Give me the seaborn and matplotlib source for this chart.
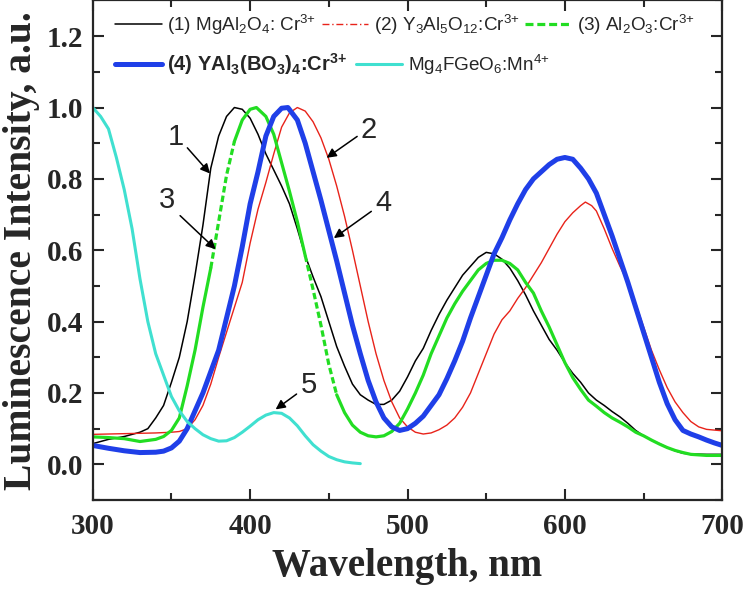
import numpy as np
import pandas as pd
import matplotlib
matplotlib.use("Agg")
import matplotlib.pyplot as plt
from matplotlib.lines import Line2D
import seaborn as sns

# ---------------- data ----------------
wl_black = [300, 310, 320, 330, 335, 340, 345, 350, 355, 360, 365, 370, 375, 380, 385, 390, 395, 400,
            405, 410, 415, 420, 425, 430, 435, 440, 445, 450, 455, 460, 465, 470, 475, 480, 485, 490,
            495, 500, 505, 510, 515, 520, 525, 530, 535, 540, 545, 550, 555, 560, 565, 570, 575, 580,
            585, 590, 595, 600, 605, 610, 615, 620, 625, 630, 635, 640, 645, 650, 655, 660, 665, 670,
            675, 680, 690, 700]
int_black = [0.058, 0.07, 0.078, 0.09, 0.10, 0.13, 0.165, 0.23, 0.30, 0.40, 0.53, 0.67, 0.83, 0.92,
             0.975, 1.0, 0.995, 0.97, 0.925, 0.87, 0.825, 0.78, 0.73, 0.66, 0.585, 0.525, 0.47, 0.40,
             0.33, 0.275, 0.225, 0.195, 0.18, 0.168, 0.168, 0.18, 0.205, 0.245, 0.29, 0.325, 0.375,
             0.42, 0.46, 0.495, 0.53, 0.555, 0.58, 0.594, 0.59, 0.575, 0.55, 0.515, 0.475, 0.43, 0.39,
             0.35, 0.32, 0.285, 0.255, 0.23, 0.20, 0.18, 0.165, 0.148, 0.133, 0.115, 0.095, 0.08,
             0.068, 0.058, 0.047, 0.038, 0.031, 0.029, 0.028, 0.028]

wl_red = [300, 310, 320, 330, 340, 350, 355, 360, 365, 370, 375, 380, 385, 390, 395, 400, 405, 410,
          415, 420, 425, 430, 435, 440, 445, 450, 455, 460, 465, 470, 475, 480, 485, 490, 495, 500,
          505, 510, 515, 520, 525, 530, 535, 540, 545, 550, 555, 560, 565, 570, 575, 580, 585, 590,
          595, 600, 605, 610, 613, 617, 620, 625, 630, 635, 640, 645, 650, 655, 660, 665, 670, 675,
          680, 685, 690, 700]
int_red = [0.084, 0.085, 0.086, 0.087, 0.088, 0.09, 0.092, 0.10, 0.125, 0.165, 0.225, 0.30, 0.37,
           0.44, 0.51, 0.62, 0.715, 0.79, 0.87, 0.945, 0.985, 1.0, 0.99, 0.96, 0.915, 0.855, 0.78,
           0.695, 0.60, 0.50, 0.40, 0.31, 0.235, 0.175, 0.13, 0.105, 0.09, 0.085, 0.088, 0.097, 0.11,
           0.13, 0.16, 0.20, 0.255, 0.31, 0.365, 0.405, 0.43, 0.465, 0.495, 0.53, 0.565, 0.605, 0.645,
           0.68, 0.705, 0.725, 0.735, 0.725, 0.71, 0.66, 0.605, 0.555, 0.51, 0.45, 0.385, 0.32, 0.265,
           0.215, 0.175, 0.145, 0.12, 0.105, 0.098, 0.094]

wl_green = [300, 310, 320, 330, 340, 345, 350, 355, 360, 365, 370, 375, 380, 385, 390, 395, 400, 404,
            410, 415, 420, 425, 430, 435, 440, 445, 450, 455, 460, 465, 470, 475, 480, 485, 490, 495,
            500, 505, 510, 515, 520, 525, 530, 535, 540, 545, 550, 555, 560, 565, 570, 575, 580, 585,
            590, 595, 600, 605, 610, 615, 620, 625, 630, 635, 640, 645, 650, 655, 660, 665, 670, 675,
            680, 690, 700]
int_green = [0.077, 0.075, 0.072, 0.064, 0.07, 0.078, 0.095, 0.13, 0.22, 0.32, 0.44, 0.55, 0.68, 0.81,
             0.905, 0.965, 0.995, 1.0, 0.975, 0.925, 0.845, 0.765, 0.68, 0.585, 0.49, 0.39, 0.28,
             0.195, 0.145, 0.11, 0.09, 0.08, 0.077, 0.08, 0.092, 0.115, 0.155, 0.20, 0.25, 0.31, 0.36,
             0.41, 0.45, 0.485, 0.515, 0.545, 0.563, 0.572, 0.572, 0.563, 0.545, 0.51, 0.48, 0.43,
             0.385, 0.335, 0.285, 0.243, 0.21, 0.18, 0.163, 0.145, 0.13, 0.118, 0.105, 0.09, 0.08,
             0.068, 0.057, 0.047, 0.039, 0.033, 0.028, 0.025, 0.025]

wl_blue = [300, 310, 320, 330, 340, 345, 350, 355, 360, 365, 370, 375, 380, 385, 390, 395, 400, 405,
           410, 415, 420, 424, 430, 435, 440, 445, 450, 455, 460, 465, 470, 475, 480, 485, 490, 495,
           500, 505, 510, 515, 520, 525, 530, 535, 540, 545, 550, 555, 560, 565, 570, 575, 580, 585,
           590, 595, 600, 605, 610, 615, 620, 625, 630, 635, 640, 645, 650, 655, 660, 665, 670, 675,
           680, 685, 690, 695, 700]
int_blue = [0.053, 0.045, 0.038, 0.033, 0.034, 0.037, 0.046, 0.065, 0.10, 0.15, 0.20, 0.26, 0.32, 0.41,
            0.50, 0.61, 0.73, 0.82, 0.92, 0.975, 0.998, 1.0, 0.965, 0.90, 0.82, 0.74, 0.655, 0.57,
            0.48, 0.39, 0.31, 0.235, 0.175, 0.13, 0.105, 0.095, 0.10, 0.115, 0.135, 0.165, 0.195,
            0.24, 0.29, 0.345, 0.41, 0.47, 0.53, 0.59, 0.635, 0.685, 0.73, 0.77, 0.80, 0.82, 0.84,
            0.855, 0.86, 0.855, 0.83, 0.80, 0.76, 0.70, 0.64, 0.575, 0.51, 0.44, 0.37, 0.30, 0.23,
            0.17, 0.125, 0.095, 0.085, 0.077, 0.068, 0.06, 0.053]

wl_cyan = [300, 305, 310, 315, 320, 325, 330, 335, 340, 345, 350, 355, 360, 365, 370, 375, 380, 385,
           390, 395, 400, 405, 410, 415, 420, 425, 430, 435, 440, 445, 450, 455, 460, 465, 470]
int_cyan = [1.0, 0.975, 0.94, 0.86, 0.77, 0.66, 0.52, 0.40, 0.31, 0.25, 0.19, 0.15, 0.12, 0.10, 0.083,
            0.072, 0.065, 0.066, 0.075, 0.09, 0.107, 0.125, 0.138, 0.145, 0.143, 0.13, 0.108, 0.08,
            0.055, 0.037, 0.022, 0.013, 0.007, 0.004, 0.002]

labels = [r"(1) MgAl$_2$O$_4$: Cr$^{3{+}}$",
          r"(2) Y$_3$Al$_5$O$_{12}$:Cr$^{3{+}}$",
          r"(3) Al$_2$O$_3$:Cr$^{3{+}}$",
          r"(4) YAl$_3$(BO$_3$)$_4$:Cr$^{3{+}}$",
          r"Mg$_4$FGeO$_6$:Mn$^{4{+}}$"]
curve_numbers = ["1", "2", "3", "4", "5"]

# ---------------- style ----------------
sns.set_style("ticks")
plt.rcParams["font.family"] = ["Liberation Sans", "DejaVu Sans"]
plt.rcParams["mathtext.default"] = "regular"

c_black, c_red, c_green, c_blue, c_cyan = "#000000", "#e8231a", "#22dd22", "#1f3fe8", "#40e0d0"

fig = plt.figure(figsize=(7.45, 5.9), dpi=100)
ax = fig.add_axes([0.1245, 0.1525, 0.845, 0.8467])

sns.lineplot(x=wl_black, y=int_black, ax=ax, color=c_black, lw=1.1, sort=False)
sns.lineplot(x=wl_red, y=int_red, ax=ax, color=c_red, lw=1.0, sort=False)

# green curve: solid with dashed steep parts (as in original)
g = pd.DataFrame({"wl": wl_green, "I": int_green})
segs = [(300, 375, "-"), (375, 390, (0, (2.0, 1.0))), (390, 435, "-"), (435, 455, (0, (2.0, 1.0))), (455, 700, "-")]
for lo, hi, ls in segs:
    s = g[(g.wl >= lo) & (g.wl <= hi)]
    sns.lineplot(data=s, x="wl", y="I", ax=ax, color=c_green, lw=2.3, linestyle=ls, sort=False)

sns.lineplot(x=wl_blue, y=int_blue, ax=ax, color=c_blue, lw=3.6, sort=False)
sns.lineplot(x=wl_cyan, y=int_cyan, ax=ax, color=c_cyan, lw=2.2, sort=False)

ax.set_xlim(300, 700)
ax.set_ylim(-0.1, 1.3)
ax.set_xticks([300, 400, 500, 600, 700])
ax.set_xticks(np.arange(300, 701, 50), minor=True)
ax.set_yticks(np.arange(0, 1.21, 0.2))
ax.set_yticks(np.arange(-0.1, 1.31, 0.1), minor=True)
ax.yaxis.set_major_formatter(matplotlib.ticker.FormatStrFormatter("%.1f"))

for sp in ax.spines.values():
    sp.set_linewidth(1.6)
ax.tick_params(which="both", direction="in", top=True, right=True, width=1.5)
ax.tick_params(which="major", length=8)
ax.tick_params(which="minor", length=5)
ax.tick_params(axis="x", which="major", pad=9)
ax.tick_params(axis="y", which="major", pad=7)
for lab in ax.get_xticklabels() + ax.get_yticklabels():
    lab.set_fontfamily("Liberation Serif")
    lab.set_fontweight("bold")
    lab.set_fontsize(21)

ax.set_xlabel("Wavelength, nm", family="Liberation Serif", weight="bold", fontsize=28, labelpad=6)
ax.set_ylabel("Luminescence Intensity, a.u.", family="Liberation Serif", weight="bold", fontsize=28.5,
              labelpad=5)

# legends
h1 = [Line2D([], [], color=c_black, lw=1.1),
      Line2D([], [], color=c_red, lw=1.0, ls=(0, (5, 2, 1, 2))),
      Line2D([], [], color=c_green, lw=2.3, ls=(0, (2.5, 1.2)))]
leg1 = ax.legend(h1, labels[:3], ncol=3, loc="center left", bbox_to_anchor=(0.036, 0.952),
                 frameon=False, fontsize=13.6, handlelength=2.45, handletextpad=0.3,
                 columnspacing=0.3, borderpad=0, borderaxespad=0)
ax.add_artist(leg1)
h2 = [Line2D([], [], color=c_blue, lw=3.6), Line2D([], [], color=c_cyan, lw=2.2)]
leg2 = ax.legend(h2, labels[3:], ncol=2, loc="center left", bbox_to_anchor=(0.036, 0.873),
                 frameon=False, fontsize=13.6, handlelength=2.45, handletextpad=0.3,
                 columnspacing=0.45, borderpad=0, borderaxespad=0)
leg2.get_texts()[0].set_fontweight("bold")
leg2.get_texts()[0].set_fontsize(14.5)

# curve annotations: (number, text position, arrow tail, arrow head)
ann = [("1", (352.7, 0.918), (360.1, 0.887), (374.5, 0.815)),
       ("2", (475.4, 0.938), (468.0, 0.919), (448.6, 0.859)),
       ("3", (347.4, 0.742), (355.5, 0.697), (378.1, 0.603)),
       ("4", (485.0, 0.732), (477.0, 0.709), (453.2, 0.634)),
       ("5", (437.4, 0.222), (429.5, 0.197), (416.2, 0.154))]
for (num, txt, tail, head) in ann:
    ax.text(txt[0], txt[1], num, fontsize=21, ha="center", va="center")
    ax.annotate("", xy=head, xytext=tail,
                arrowprops=dict(arrowstyle="-|>", color="k", lw=1.1, mutation_scale=14,
                                shrinkA=0, shrinkB=0))

fig.savefig("out.png", dpi=100)
